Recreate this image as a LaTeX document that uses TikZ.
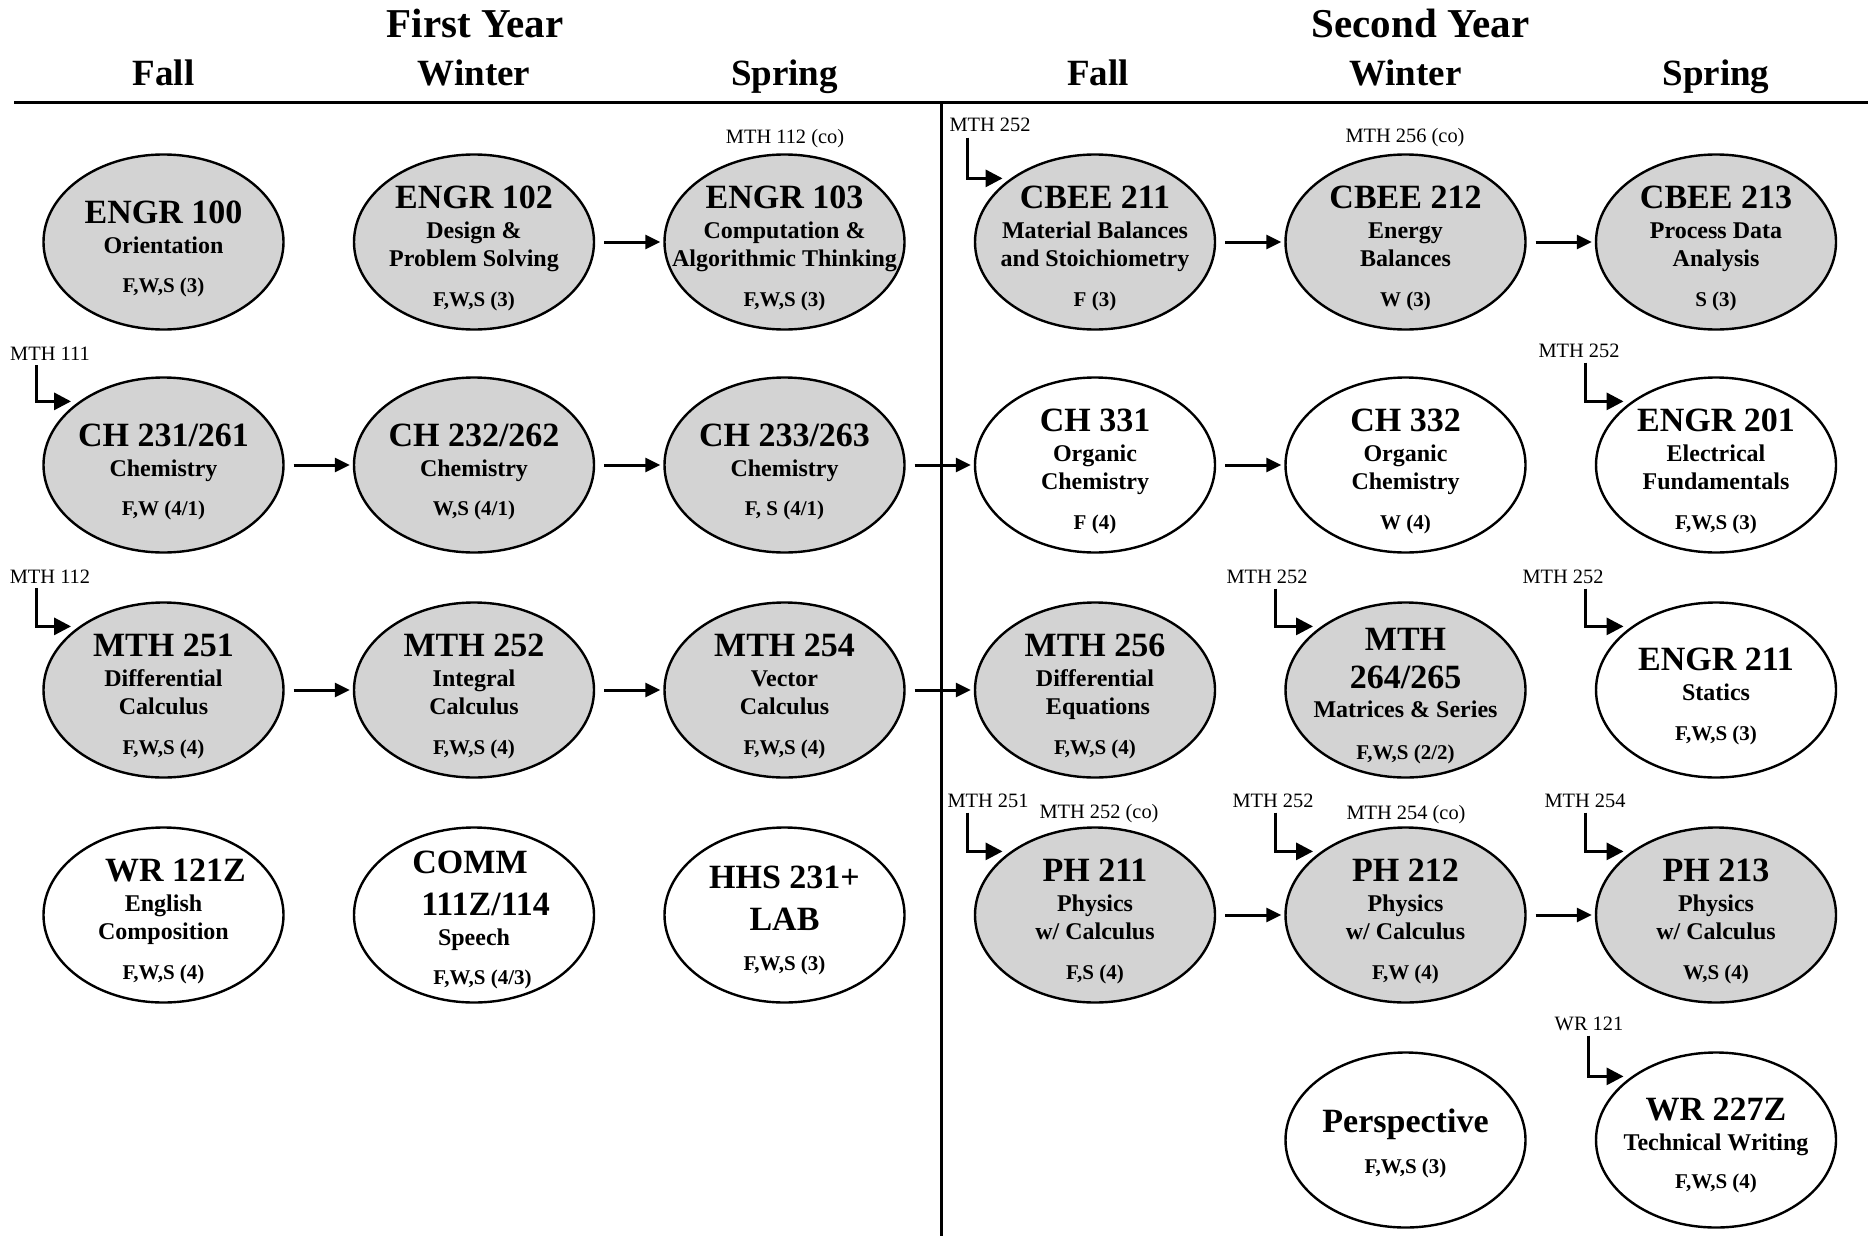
\documentclass[tikz,border=0pt]{standalone}
\usepackage{fontspec}
\setmainfont{Liberation Serif}
\usetikzlibrary{shapes,arrows.meta}

\definecolor{crsgray}{RGB}{211,211,211}

\newcommand{\ttlf}{\fontsize{17}{20}\selectfont\bfseries}
\newcommand{\descf}{\fontsize{12}{14}\selectfont\bfseries}
\newcommand{\credf}{\fontsize{10.5}{12}\selectfont\bfseries}
\newcommand{\txtline}[3][0pt]{\kern#1\smash{\makebox[0pt]{\raisebox{#2}{#3}}}\kern-#1\ignorespaces}
\newcommand{\cname}[3][0pt]{\txtline[#1]{#2}{\ttlf #3}}
\newcommand{\cdesc}[3][0pt]{\txtline[#1]{#2}{\descf #3}}
\newcommand{\ccred}[3][0pt]{\txtline[#1]{#2}{\credf #3}}

\tikzset{
	crs/.style={ellipse, draw, line width=1.2pt, minimum width=120pt, minimum height=87.5pt, inner sep=0pt},
	filled/.style={crs, fill=crsgray},
	arr/.style={-{Triangle[length=7.5pt,width=7pt]}, line width=1.5pt, shorten <=4.5pt, shorten >=1.5pt},
	prq/.style={-{Triangle[length=8.5pt,width=8.5pt]}, line width=1.5pt, shorten <=2.5pt, shorten >=4pt},
	pre/.style={font=\fontsize{10.2}{12}\selectfont, anchor=base, inner sep=0pt},
	year/.style={font=\fontsize{20.5}{24}\selectfont\bfseries, anchor=base, inner sep=0pt},
	season/.style={font=\fontsize{18.5}{22}\selectfont\bfseries, anchor=base, inner sep=0pt}
}

\begin{document}
\begin{tikzpicture}[x=0.5pt,y=-0.5pt]
	\useasboundingbox (0,0) rectangle (1871,1236);

	% Draw headings
	\node[year] (yr1) at (475,38) {First Year};
	\node[year] (yr2) at (1420.5,38) {Second Year};
	\node[season] (fall1) at (163.5,86) {Fall};
	\node[season] (win1) at (474,86) {Winter};
	\node[season] (spr1) at (784.5,86) {Spring};
	\node[season] (fall2) at (1098,86) {Fall};
	\node[season] (win2) at (1405.5,86) {Winter};
	\node[season] (spr2) at (1716,86) {Spring};
	\draw[line width=1.5pt] (14,102.7) -- (1868,102.7);
	\draw[line width=1.5pt] (941,104) -- (941,1236);

	% Draw first row
	\node[filled] (engr100) at (163.5,242) {\cname{9.5pt}{ENGR 100}\cdesc{-5.5pt}{Orientation}\ccred{-25pt}{F,W,S (3)}};
	\node[filled] (engr102) at (474,242) {\cname{17pt}{ENGR 102}\cdesc{2pt}{Design \&}\cdesc{-12.25pt}{Problem Solving}\ccred{-32pt}{F,W,S (3)}};
	\node[filled] (engr103) at (784.5,242) {\cname{17pt}{ENGR 103}\cdesc{2pt}{Computation \&}\cdesc{-12.25pt}{Algorithmic Thinking}\ccred{-32pt}{F,W,S (3)}};
	\node[filled] (cbee211) at (1095,242) {\cname{17pt}{CBEE 211}\cdesc{2pt}{Material Balances}\cdesc{-12.25pt}{and Stoichiometry}\ccred{-32pt}{F (3)}};
	\node[filled] (cbee212) at (1405.5,242) {\cname{17pt}{CBEE 212}\cdesc{2pt}{Energy}\cdesc{-12.25pt}{Balances}\ccred{-32pt}{W (3)}};
	\node[filled] (cbee213) at (1716,242) {\cname{17pt}{CBEE 213}\cdesc{2pt}{Process Data}\cdesc{-12.25pt}{Analysis}\ccred{-32pt}{S (3)}};

	% Draw second row
	\node[filled] (ch231) at (163.5,465) {\cname{9.5pt}{CH 231/261}\cdesc{-5.5pt}{Chemistry}\ccred{-25pt}{F,W (4/1)}};
	\node[filled] (ch232) at (474,465) {\cname{9.5pt}{CH 232/262}\cdesc{-5.5pt}{Chemistry}\ccred{-25pt}{W,S (4/1)}};
	\node[filled] (ch233) at (784.5,465) {\cname{9.5pt}{CH 233/263}\cdesc{-5.5pt}{Chemistry}\ccred{-25pt}{F, S (4/1)}};
	\node[crs] (ch331) at (1095,465) {\cname{17pt}{CH 331}\cdesc{2pt}{Organic}\cdesc{-12.25pt}{Chemistry}\ccred{-32pt}{F (4)}};
	\node[crs] (ch332) at (1405.5,465) {\cname{17pt}{CH 332}\cdesc{2pt}{Organic}\cdesc{-12.25pt}{Chemistry}\ccred{-32pt}{W (4)}};
	\node[crs] (engr201) at (1716,465) {\cname{17pt}{ENGR 201}\cdesc{2pt}{Electrical}\cdesc{-12.25pt}{Fundamentals}\ccred{-32pt}{F,W,S (3)}};

	% Draw third row
	\node[filled] (mth251) at (163.5,690) {\cname{17pt}{MTH 251}\cdesc{2pt}{Differential}\cdesc{-12.25pt}{Calculus}\ccred{-32pt}{F,W,S (4)}};
	\node[filled] (mth252) at (474,690) {\cname{17pt}{MTH 252}\cdesc{2pt}{Integral}\cdesc{-12.25pt}{Calculus}\ccred{-32pt}{F,W,S (4)}};
	\node[filled] (mth254) at (784.5,690) {\cname{17pt}{MTH 254}\cdesc{2pt}{Vector}\cdesc{-12.25pt}{Calculus}\ccred{-32pt}{F,W,S (4)}};
	\node[filled] (mth256) at (1095,690) {\cname{17pt}{MTH 256}\cdesc{2pt}{Differential}\cdesc[1.5pt]{-12.25pt}{Equations}\ccred{-32pt}{F,W,S (4)}};
	\node[filled] (mth264) at (1405.5,690) {\cname{20pt}{MTH}\cname{0.75pt}{264/265}\cdesc{-13.5pt}{Matrices \& Series}\ccred{-34.5pt}{F,W,S (2/2)}};
	\node[crs] (engr211) at (1716,690) {\cname{10pt}{ENGR 211}\cdesc{-5pt}{Statics}\ccred{-25pt}{F,W,S (3)}};

	% Draw fourth row
	\node[crs] (wr121) at (163.5,915) {\cname[6pt]{17pt}{WR 121Z}\cdesc{2pt}{English}\cdesc{-12.25pt}{Composition}\ccred{-32pt}{F,W,S (4)}};
	\node[crs] (comm) at (474,915) {\cname[-2pt]{21pt}{COMM}\cname[5.8pt]{0pt}{111Z/114}\cdesc{-15pt}{Speech}\ccred[4.3pt]{-34.5pt}{F,W,S (4/3)}};
	\node[crs] (hhs) at (784.5,915) {\cname{13.5pt}{HHS 231+}\cname{-7.5pt}{LAB}\ccred{-27.5pt}{F,W,S (3)}};
	\node[filled] (ph211) at (1095,915) {\cname{17pt}{PH 211}\cdesc{2pt}{Physics}\cdesc{-12.25pt}{w/ Calculus}\ccred{-32pt}{F,S (4)}};
	\node[filled] (ph212) at (1405.5,915) {\cname{17pt}{PH 212}\cdesc{2pt}{Physics}\cdesc{-12.25pt}{w/ Calculus}\ccred{-32pt}{F,W (4)}};
	\node[filled] (ph213) at (1716,915) {\cname{17pt}{PH 213}\cdesc{2pt}{Physics}\cdesc{-12.25pt}{w/ Calculus}\ccred{-32pt}{W,S (4)}};

	% Draw fifth row
	\node[crs] (persp) at (1405.5,1140) {\cname{3.75pt}{Perspective}\ccred{-16.75pt}{F,W,S (3)}};
	\node[crs] (wr227) at (1716,1140) {\cname{10pt}{WR 227Z}\cdesc{-5pt}{Technical Writing}\ccred{-24pt}{F,W,S (4)}};

	% Draw sequence arrows
	\draw[arr] (engr102) -- (engr103);
	\draw[arr] (cbee211) -- (cbee212);
	\draw[arr] (cbee212) -- (cbee213);
	\draw[arr] (ch231) -- (ch232);
	\draw[arr] (ch232) -- (ch233);
	\draw[arr] (ch233) -- (ch331);
	\draw[arr] (ch331) -- (ch332);
	\draw[arr] (mth251) -- (mth252);
	\draw[arr] (mth252) -- (mth254);
	\draw[arr] (mth254) -- (mth256);
	\draw[arr] (ph211) -- (ph212);
	\draw[arr] (ph212) -- (ph213);

	% Draw prerequisites
	\node[pre] (p1) at (785,143) {MTH 112 (co)};
	\node[pre] (p2) at (990,132) {MTH 252};
	\node[pre] (p3) at (1405,142) {MTH 256 (co)};
	\node[pre] (p4) at (50,360) {MTH 111};
	\node[pre] (p5) at (1579,357) {MTH 252};
	\node[pre] (p6) at (50,583) {MTH 112};
	\node[pre] (p7) at (1267,583) {MTH 252};
	\node[pre] (p8) at (1563,583) {MTH 252};
	\node[pre] (p9) at (988,807) {MTH 251};
	\node[pre] (p10) at (1099,818) {MTH 252 (co)};
	\node[pre] (p11) at (1273,807) {MTH 252};
	\node[pre] (p12) at (1406,819) {MTH 254 (co)};
	\node[pre] (p13) at (1585,807) {MTH 254};
	\node[pre] (p14) at (1589,1030) {WR 121};
	\draw[prq] ([xshift=-11.5pt]p2.south) |- (cbee211.143);
	\draw[prq] ([xshift=-7pt]p4.south) |- (ch231.143);
	\draw[prq] ([xshift=3pt]p5.south) |- (engr201.143);
	\draw[prq] ([xshift=-7pt]p6.south) |- (mth251.143);
	\draw[prq] ([xshift=4pt]p7.south) |- (mth264.143);
	\draw[prq] ([xshift=11pt]p8.south) |- (engr211.143);
	\draw[prq] ([xshift=-10.5pt]p9.south) |- (ph211.143);
	\draw[prq] ([xshift=1pt]p11.south) |- (ph212.143);
	\draw[prq] (p13.south) |- (ph213.143);
	\draw[prq] ([xshift=-0.5pt]p14.south) |- (wr227.143);

\end{tikzpicture}
\end{document}
